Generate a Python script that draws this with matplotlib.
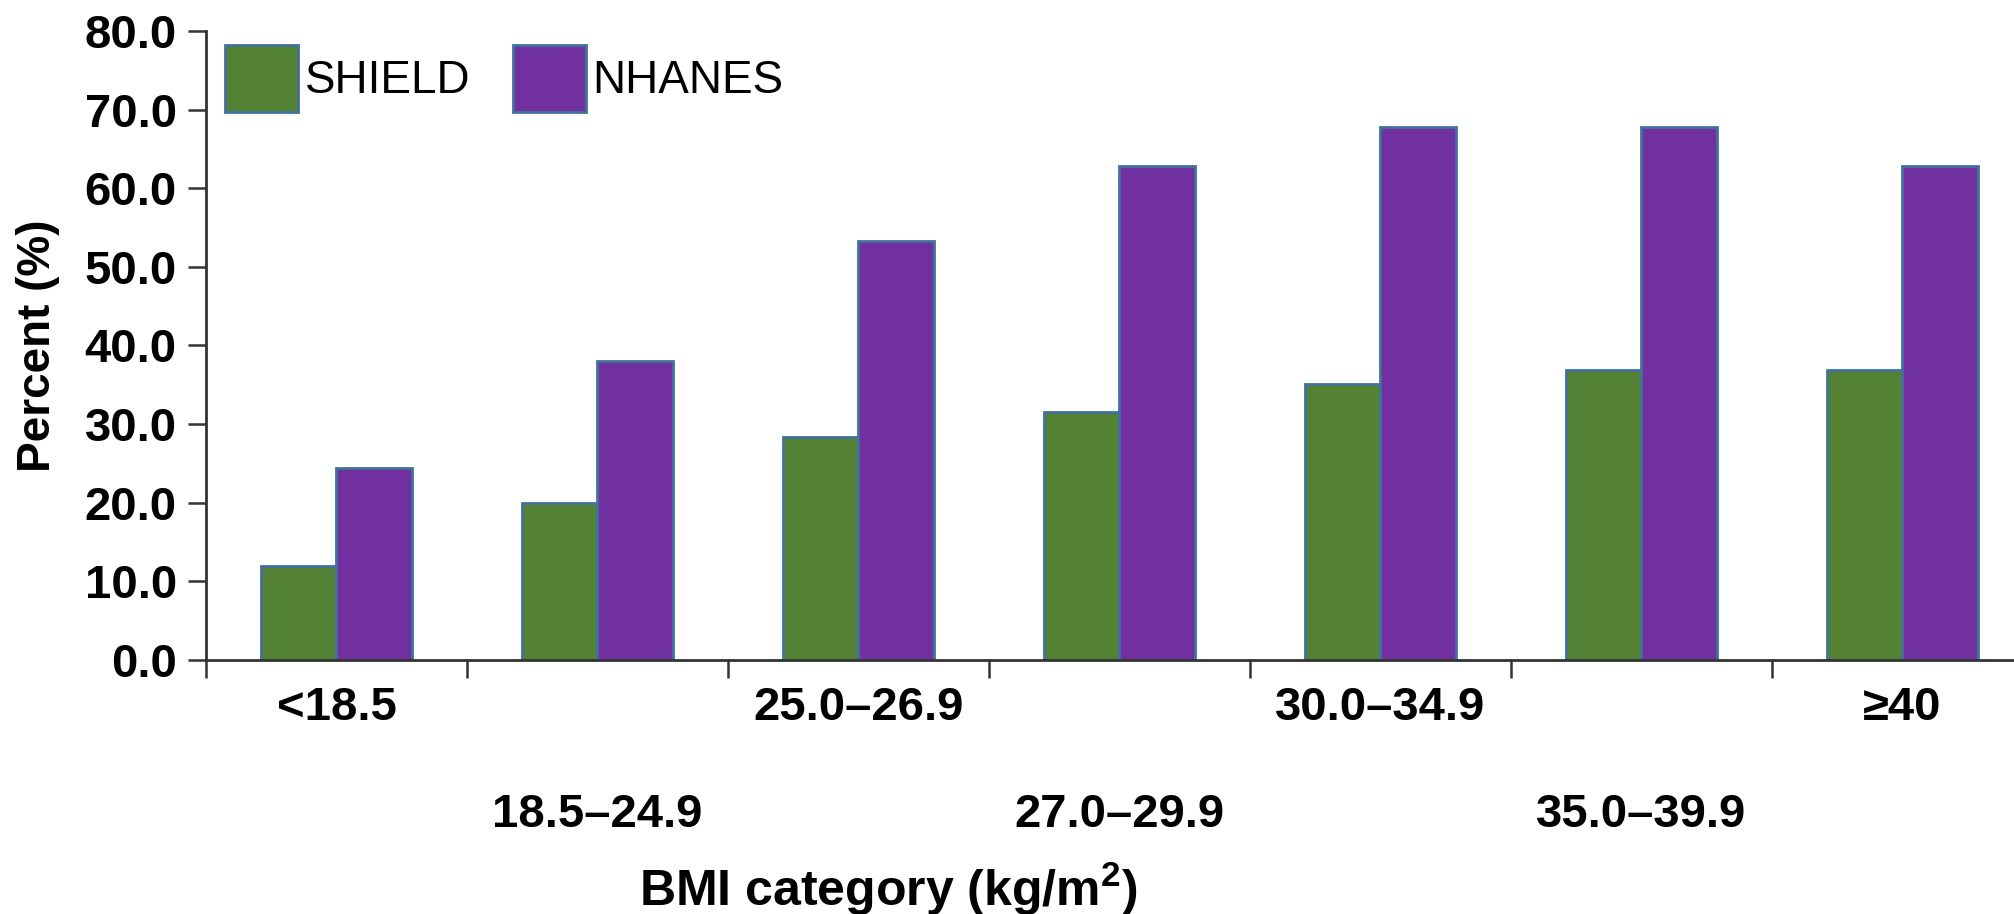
import numpy as np
import matplotlib
matplotlib.use("Agg")
import matplotlib.pyplot as plt

plt.rcParams['font.family'] = ['Liberation Sans', 'DejaVu Sans']
plt.rcParams['mathtext.fontset'] = 'custom'
plt.rcParams['mathtext.bf'] = 'Liberation Sans:bold'
plt.rcParams['mathtext.rm'] = 'Liberation Sans:bold'

# values (percent)
categories = ['<18.5', '18.5\u201324.9', '25.0\u201326.9', '27.0\u201329.9',
              '30.0\u201334.9', '35.0\u201339.9', '\u226540']
shield = [12.0, 20.0, 28.3, 31.5, 35.1, 36.9, 36.9]
nhanes = [24.4, 38.0, 53.3, 62.8, 67.8, 67.8, 62.8]
yticks = [0, 10, 20, 30, 40, 50, 60, 70, 80]

green = '#548235'
purple = '#7030A0'
edge = '#41719C'
axcol = '#333333'

fig = plt.figure(figsize=(20.15, 9.14), dpi=100)
ax = fig.add_axes([206/2015, 1-660/914, 1827/2015, 629/914])

x = np.arange(len(categories)) + 0.5
w = 0.29
b1 = ax.bar(x - w/2, shield, w, color=green, edgecolor=edge, linewidth=2, label='SHIELD')
b2 = ax.bar(x + w/2, nhanes, w, color=purple, edgecolor=edge, linewidth=2, label='NHANES')

ax.set_xlim(0, 7)
ax.set_ylim(0, 80)
ax.set_yticks(yticks)
ax.set_yticklabels(['%.1f' % v for v in yticks])

for s in ['top', 'right']:
    ax.spines[s].set_visible(False)
for s in ['left', 'bottom']:
    ax.spines[s].set_linewidth(2)
    ax.spines[s].set_color(axcol)

ax.tick_params(axis='y', length=13, width=1.8, color=axcol, pad=8,
               labelsize=34)
for t in ax.get_yticklabels():
    t.set_fontweight('bold')

# category boundaries get the tick marks, centres get the labels
ax.set_xticks(np.arange(0, 8), minor=True)
ax.tick_params(axis='x', which='minor', length=13, width=1.8, color=axcol)
ax.set_xticks(x)
ax.set_xticklabels(categories, fontsize=34, fontweight='bold')
ax.tick_params(axis='x', which='major', length=0)
for i, t in enumerate(ax.xaxis.get_major_ticks()):
    t.set_pad(19 if i % 2 == 0 else 96)

ax.set_ylabel('Percent (%)', fontsize=33, fontweight='bold')
ax.yaxis.set_label_coords(-0.08, 0.5)

fig.text(0.441, 1-889/914, r'BMI category (kg/m$^{\mathbf{2}}$)',
         fontsize=36, fontweight='bold', ha='center', va='center')

ax.legend(handles=[b1, b2], loc='upper left', bbox_to_anchor=(225/2015, 1-45/914),
          bbox_transform=fig.transFigure, ncol=2, frameon=False, fontsize=33,
          handlelength=1.6, handleheight=1.87, handletextpad=0.14,
          columnspacing=0.92, borderpad=0, borderaxespad=0)

fig.savefig('out.png', dpi=100)
